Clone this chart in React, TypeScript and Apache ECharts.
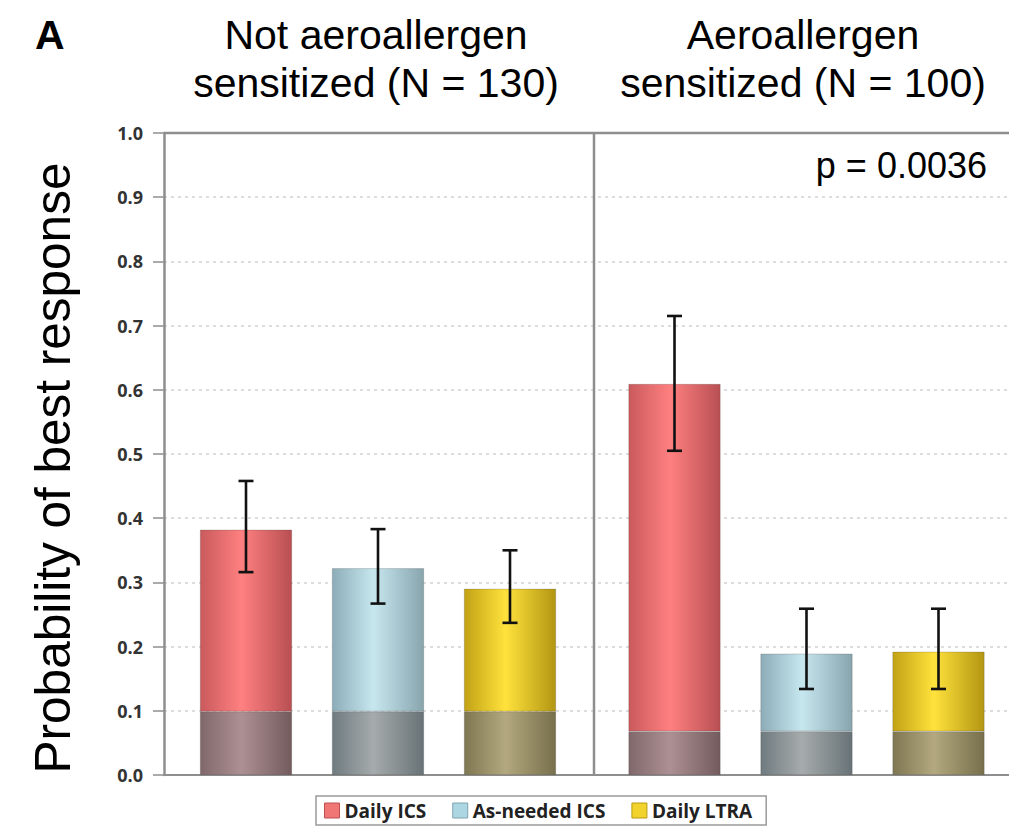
import React, { useEffect, useRef } from "react";
import * as echarts from "echarts";

const categories = ["Daily ICS", "As-needed ICS", "Daily LTRA"];
const groupTitles = ["Not aeroallergen\nsensitized (N = 130)", "Aeroallergen\nsensitized (N = 100)"];
const yTicks = [0, 0.1, 0.2, 0.3, 0.4, 0.5, 0.6, 0.7, 0.8, 0.9, 1.0];

// Not aeroallergen sensitized
const notSensMean = [0.382, 0.322, 0.29];
const notSensLow = [0.316, 0.267, 0.237];
const notSensHigh = [0.458, 0.383, 0.35];
const notSensBase = [0.099, 0.099, 0.099];

// Aeroallergen sensitized
const sensMean = [0.609, 0.189, 0.192];
const sensLow = [0.505, 0.134, 0.134];
const sensHigh = [0.715, 0.259, 0.259];
const sensBase = [0.068, 0.068, 0.068];

const pValueText = "p = 0.0036";

const topColors = [
  ["#c95a5c", "#ff8080", "#b84f52"],
  ["#8cadb8", "#c7e7ef", "#88a5ae"],
  ["#c2a215", "#ffe23c", "#b39612"],
];
const baseColors = [
  ["#80686a", "#ad9093", "#735b5d"],
  ["#6f7b80", "#a6abac", "#687377"],
  ["#7f7752", "#b3a87f", "#77704b"],
];
const legendColors = ["#f07676", "#acd6e2", "#f2d22c"];
const legendBorders = ["#c04f50", "#7fa4b0", "#b89a10"];

function grad(c: string[]) {
  return new echarts.graphic.LinearGradient(0, 0, 1, 0, [
    { offset: 0, color: c[0] },
    { offset: 0.45, color: c[1] },
    { offset: 1, color: c[2] },
  ]);
}

const FONT = "'Liberation Sans', Arial, sans-serif";

export default function App() {
  const ref = useRef<HTMLDivElement>(null);
  useEffect(() => {
    if (!ref.current) return;
    const chart = echarts.init(ref.current, null, { renderer: "svg" });

    const groups = [
      { mean: notSensMean, low: notSensLow, high: notSensHigh, base: notSensBase },
      { mean: sensMean, low: sensLow, high: sensHigh, base: sensBase },
    ];

    const series: any[] = [];
    groups.forEach((g, gi) => {
      const axisIdx = gi + 1;
      series.push({
        type: "bar",
        name: "_base" + gi,
        xAxisIndex: axisIdx,
        yAxisIndex: axisIdx,
        stack: "s" + gi,
        barWidth: 92,
        data: g.base.map((v, i) => ({ value: v, itemStyle: { color: grad(baseColors[i]) } })),
        itemStyle: { borderColor: "rgba(60,60,60,0.35)", borderWidth: 0.6 },
      });
      categories.forEach((cat, ci) => {
        series.push({
          type: "bar",
          name: cat,
          xAxisIndex: axisIdx,
          yAxisIndex: axisIdx,
          stack: "s" + gi,
          barWidth: 92,
          data: categories.map((_, i) => (i === ci ? +(g.mean[i] - g.base[i]).toFixed(3) : "-")),
          itemStyle: { color: grad(topColors[ci]), borderColor: "rgba(60,60,60,0.35)", borderWidth: 0.6 },
        });
      });
      series.push({
        type: "custom",
        xAxisIndex: axisIdx,
        yAxisIndex: axisIdx,
        z: 10,
        data: categories.map((_, i) => [i, g.low[i], g.high[i]]),
        encode: { x: 0, y: [1, 2] },
        renderItem: (params: any, api: any) => {
          const idx = api.value(0);
          const x = api.coord([idx, 0])[0];
          const lo = api.coord([idx, api.value(1)])[1];
          const hi = api.coord([idx, api.value(2)])[1];
          const hw = 7.5;
          const st = { stroke: "#111", lineWidth: 2.6 };
          return {
            type: "group",
            children: [
              { type: "line", shape: { x1: x, y1: lo, x2: x, y2: hi }, style: st },
              { type: "line", shape: { x1: x - hw, y1: lo, x2: x + hw, y2: lo }, style: st },
              { type: "line", shape: { x1: x - hw, y1: hi, x2: x + hw, y2: hi }, style: st },
            ],
          };
        },
      });
    });

    const hiddenAxis = {
      show: false,
    };

    const option: any = {
      animation: false,
      backgroundColor: "#ffffff",
      grid: [
        { left: 164, top: 133, width: 900, height: 642 },
        { left: 180, top: 133, width: 396, height: 642 },
        { left: 608.5, top: 133, width: 396, height: 642 },
      ],
      xAxis: [
        { gridIndex: 0, type: "category", data: [""], axisLine: { show: true, lineStyle: { color: "#8e8e8e", width: 2 } }, axisTick: { show: false }, axisLabel: { show: false } },
        { gridIndex: 1, type: "category", data: categories, ...hiddenAxis },
        { gridIndex: 2, type: "category", data: categories, ...hiddenAxis },
      ],
      yAxis: [
        {
          gridIndex: 0,
          type: "value",
          min: 0,
          max: 1,
          interval: 0.1,
          axisLine: { show: true, lineStyle: { color: "#8e8e8e", width: 2.5 } },
          axisTick: { show: true, length: 11, lineStyle: { color: "#8e8e8e", width: 1.5 } },
          axisLabel: {
            margin: 21,
            color: "#333",
            fontFamily: "'Open Sans', sans-serif",
            fontWeight: "bold",
            fontSize: 18,
            formatter: (v: number) => (yTicks.some((t) => Math.abs(t - v) < 1e-6) ? v.toFixed(1) : ""),
          },
          splitLine: { show: true, lineStyle: { color: "#d2d2d2", type: [3, 4], width: 1.5 } },
        },
        { gridIndex: 1, type: "value", min: 0, max: 1, ...hiddenAxis },
        { gridIndex: 2, type: "value", min: 0, max: 1, ...hiddenAxis },
      ],
      legend: {
        left: 316,
        top: 796,
        padding: [5, 14, 5, 8],
        itemGap: 26,
        itemWidth: 15,
        itemHeight: 15,
        icon: "rect",
        borderColor: "#9a9a9a",
        borderWidth: 1.5,
        data: categories.map((c, i) => ({
          name: c,
          itemStyle: { color: legendColors[i], borderColor: legendBorders[i], borderWidth: 1 },
        })),
        textStyle: { fontFamily: "'Open Sans', sans-serif", fontWeight: "bold", fontSize: 19, color: "#222" },
        selectedMode: false,
      },
      graphic: [
        {
          type: "text",
          left: 35,
          top: 14,
          style: { text: "A", font: `bold 41px ${FONT}`, fill: "#000" },
        },
        {
          type: "text",
          x: 376,
          y: 59,
          style: { text: groupTitles[0], font: `41px ${FONT}`, fill: "#000", textAlign: "center", textVerticalAlign: "middle", lineHeight: 48 },
        },
        {
          type: "text",
          x: 803,
          y: 59,
          style: { text: groupTitles[1], font: `41px ${FONT}`, fill: "#000", textAlign: "center", textVerticalAlign: "middle", lineHeight: 48 },
        },
        {
          type: "text",
          x: 987,
          y: 165,
          style: { text: pValueText, font: `36px ${FONT}`, fill: "#000", textAlign: "right", textVerticalAlign: "middle" },
        },
        {
          type: "text",
          x: 52,
          y: 468,
          rotation: Math.PI / 2,
          style: { text: "Probability of best response", font: `49.5px ${FONT}`, fill: "#000", textAlign: "center", textVerticalAlign: "middle" },
        },
        {
          type: "line",
          shape: { x1: 164, y1: 133, x2: 1009, y2: 133 },
          style: { stroke: "#8e8e8e", lineWidth: 2.5 },
          z: 5,
        },
        {
          type: "line",
          shape: { x1: 594, y1: 133, x2: 594, y2: 775 },
          style: { stroke: "#8e8e8e", lineWidth: 2.5 },
          z: 5,
        },
      ],
      series,
    };

    chart.setOption(option);
    return () => chart.dispose();
  }, []);

  return <div ref={ref} style={{ position: "fixed", left: 0, top: 0, width: 1009, height: 828 }} />;
}
